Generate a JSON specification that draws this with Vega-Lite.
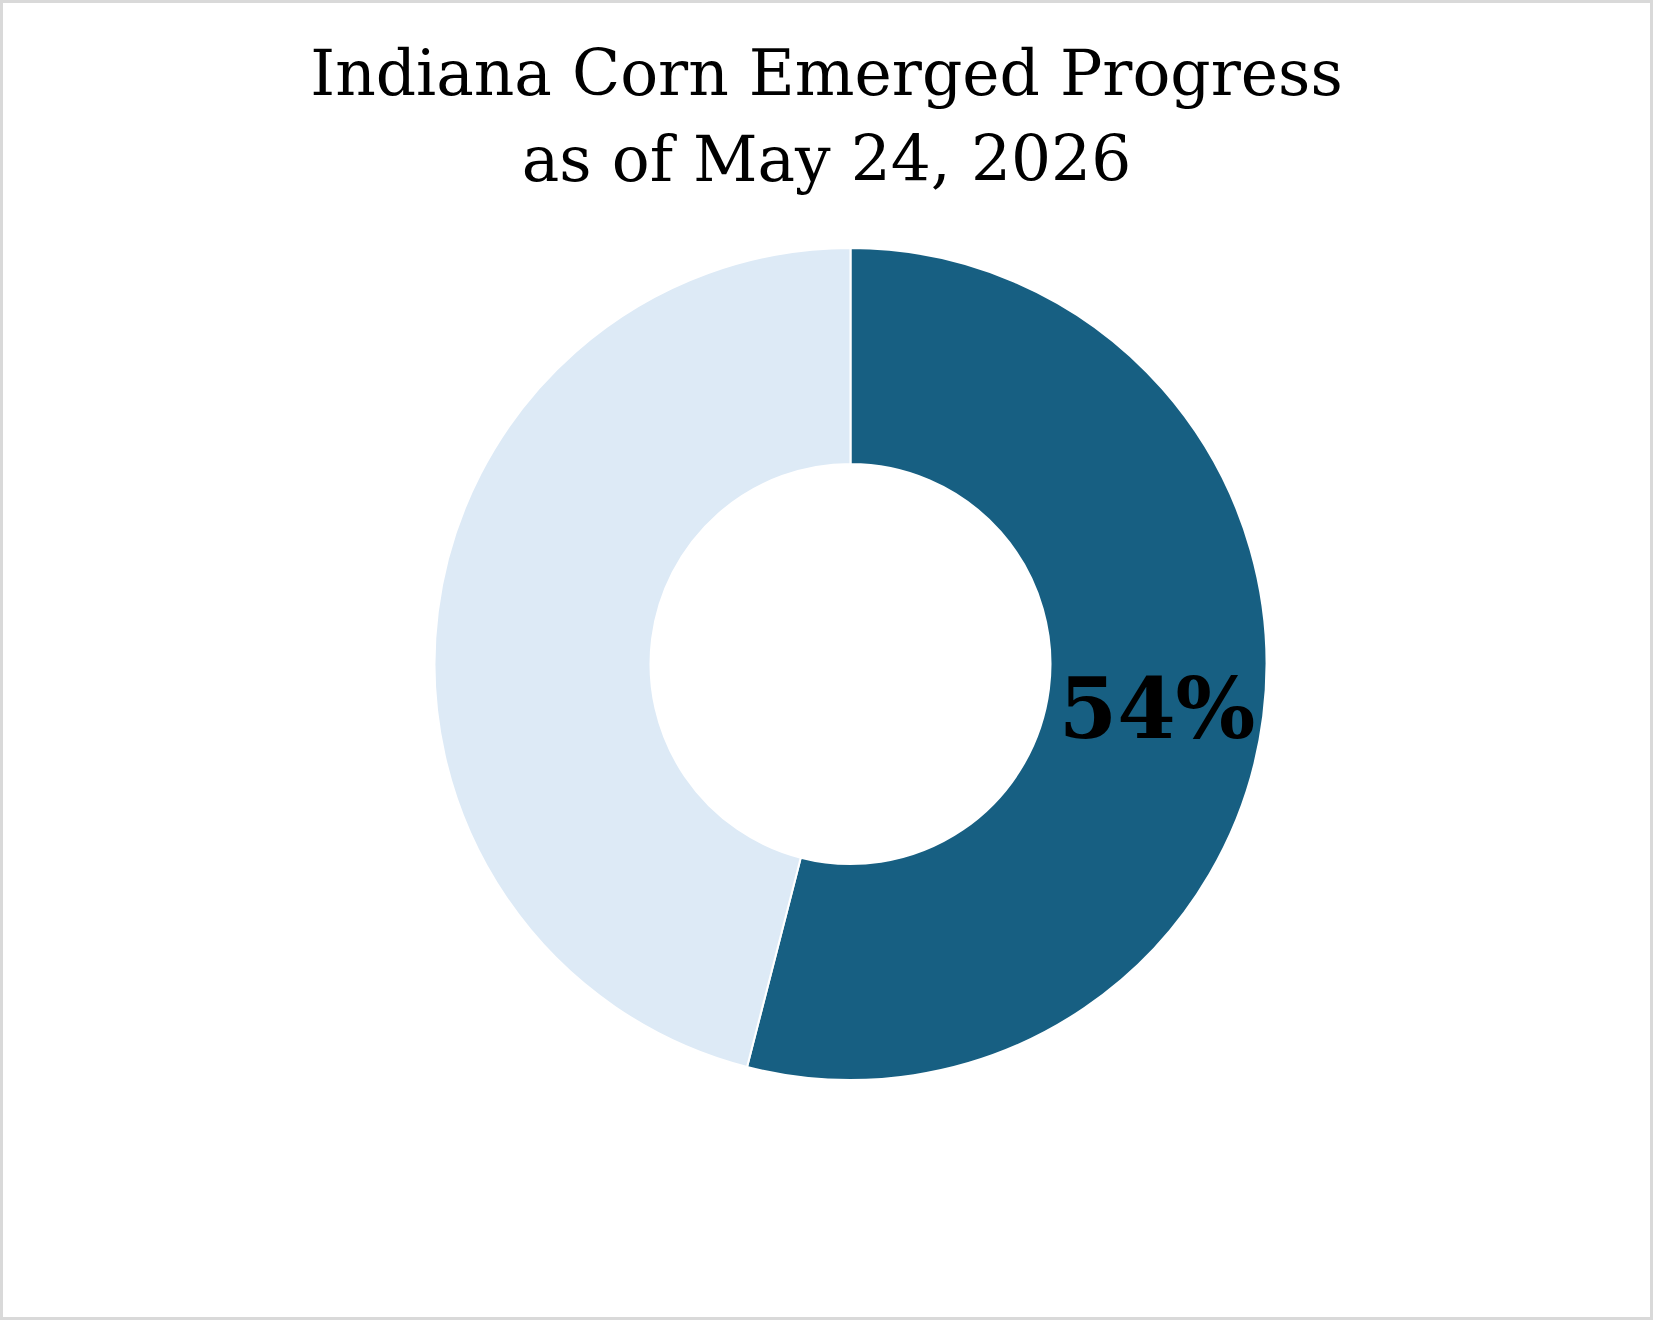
{
  "$schema": "https://vega.github.io/schema/vega-lite/v6.json",
  "width": 1653,
  "height": 1320,
  "autosize": {"type": "fit", "contains": "padding"},
  "padding": 0,
  "background": "white",
  "view": {"stroke": "#D9D9D9", "strokeWidth": 6, "fill": "white"},
  "config": {"view": {"stroke": "#D9D9D9", "strokeWidth": 6}, "style": {"cell": {"stroke": "#D9D9D9", "strokeWidth": 6}}},
  "title": {
    "text": ["Indiana Corn Emerged Progress", "as of May 24, 2026"],
    "font": "DejaVu Serif",
    "fontSize": 63,
    "fontWeight": "normal",
    "color": "black",
    "lineHeight": 86,
    "baseline": "alphabetic",
    "anchor": "middle",
    "offset": -244
  },
  "data": {
    "values": [
      {"status": "Emerged", "value": 54, "order": 1, "label": "54%"},
      {"status": "Not emerged", "value": 46, "order": 2, "label": ""}
    ]
  },
  "encoding": {
    "theta": {"field": "value", "type": "quantitative", "stack": true},
    "order": {"field": "order", "type": "quantitative"}
  },
  "layer": [
    {
      "mark": {"type": "arc", "outerRadius": 416, "innerRadius": 200, "stroke": "white", "strokeWidth": 2, "xOffset": 24, "yOffset": 4},
      "encoding": {
        "color": {
          "field": "status",
          "type": "nominal",
          "scale": {"domain": ["Emerged", "Not emerged"], "range": ["#175F82", "#DDEAF6"]},
          "legend": null
        }
      }
    },
    {
      "mark": {"type": "text", "radius": 309, "font": "DejaVu Serif", "fontWeight": "bold", "fontSize": 84, "color": "black", "align": "center", "baseline": "middle", "xOffset": 24, "yOffset": 14},
      "encoding": {"text": {"field": "label", "type": "nominal"}}
    }
  ]
}
